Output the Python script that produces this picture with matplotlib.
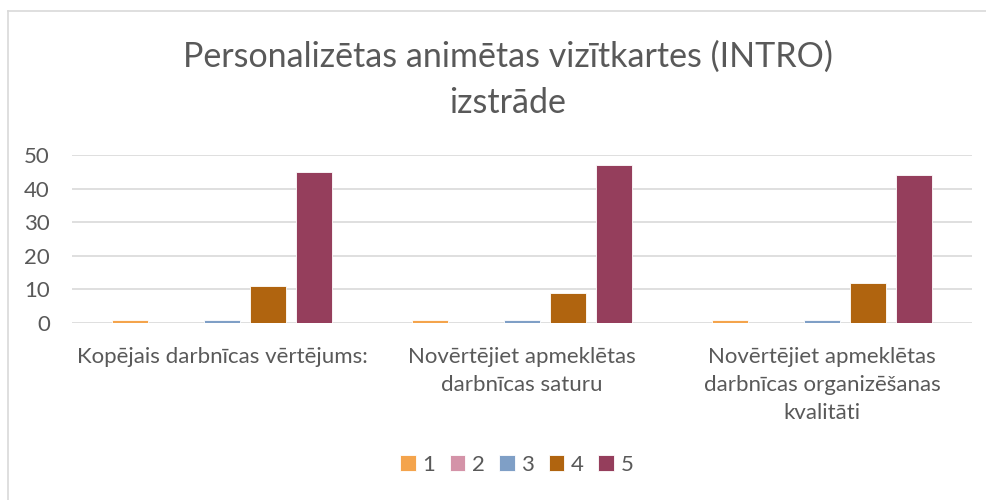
import matplotlib.pyplot as plt
import numpy as np

plt.rcParams['font.family'] = ['Lato', 'DejaVu Sans']

# 数据
categories = ['Kopējais darbnīcas vērtējums:',
              'Novērtējiet apmeklētas\ndarbnīcas saturu',
              'Novērtējiet apmeklētas\ndarbnīcas organizēšanas\nkvalitāti']
series = ['1', '2', '3', '4', '5']
s1 = [1, 1, 1]
s2 = [0, 0, 0]
s3 = [1, 1, 1]
s4 = [11, 9, 12]
s5 = [45, 47, 44]
colors = ['#F4A44C', '#D493A8', '#7F9FC6', '#B0640F', '#953E5C']
title = 'Personalizētas animētas vizītkartes (INTRO)\nizstrāde'

fig = plt.figure(figsize=(9.86, 5), dpi=100)
ax = fig.add_axes([72 / 986, 1 - 323 / 500, 900 / 986, 168 / 500])

x = np.arange(len(categories))
step = 46 / 300
width = 36 / 300
values = [s1, s2, s3, s4, s5]
handles = []
for i, v in enumerate(values):
    b = ax.bar(x + (i - 2) * step, v, width, color=colors[i], label=series[i],
               edgecolor='white', linewidth=0.6, zorder=3)
    handles.append(b)

ax.set_xlim(-0.5, 2.5)
ax.set_ylim(0, 50)
ax.set_yticks(range(0, 51, 10))
ax.yaxis.grid(True, color='#D9D9D9', linewidth=1.2, zorder=0)
for sp in ax.spines.values():
    sp.set_visible(False)
ax.tick_params(axis='both', length=0, labelsize=16, colors='#595959')
ax.tick_params(axis='y', pad=16)
ax.set_xticks(x)
ax.set_xticklabels(categories, va='top', ha='center', linespacing=1.5)
ax.tick_params(axis='x', pad=17)

fig.text(0.515, 0.84, title, ha='center', va='center', fontsize=24.5,
         color='#595959', linespacing=1.55)

fig.legend(handles=handles, labels=series, loc='center', bbox_to_anchor=(0.524, 0.07),
           ncol=5, frameon=False, fontsize=16, handlelength=0.7, handleheight=0.7,
           handletextpad=0.3, columnspacing=0.65, labelcolor='#595959')

# 边框
fig.add_artist(plt.Line2D([8 / 986, 8 / 986], [0, 1 - 11 / 500], color='#D9D9D9', linewidth=1.2))
fig.add_artist(plt.Line2D([8 / 986, 1], [1 - 11 / 500, 1 - 11 / 500], color='#D9D9D9', linewidth=1.2))

fig.savefig('out.png', dpi=100)
